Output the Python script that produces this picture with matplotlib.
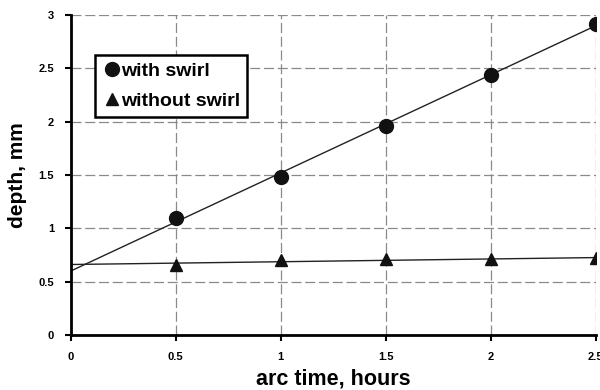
import numpy as np
import matplotlib.pyplot as plt
import matplotlib as mpl

mpl.rcParams.update({'font.family': ['Liberation Sans', 'DejaVu Sans'], 'font.weight': 'bold'})

arc_time = [0.5, 1.0, 1.5, 2.0, 2.5]
with_swirl = [1.10, 1.48, 1.96, 2.44, 2.92]
without_swirl = [0.66, 0.70, 0.71, 0.71, 0.72]

fig = plt.figure(figsize=(6, 3.9), dpi=100)
ax = fig.add_axes([0.118, 0.141, 0.875, 0.8205])

# linear trend lines from x=0
xx = np.array([0, 2.5])
for y in (with_swirl, without_swirl):
	k, b = np.polyfit(arc_time, y, 1)
	ax.plot(xx, k*xx + b, '-', color='#222222', lw=1.0, zorder=2)

ax.plot(arc_time, with_swirl, 'o', color='#111111', markersize=10, label='with swirl', zorder=3)
ax.plot(arc_time, without_swirl, '^', color='#111111', markersize=9, label='without swirl', zorder=3)

ax.set_xlim(0, 2.5)
ax.set_ylim(0, 3)
ax.set_xticks(np.arange(0, 2.51, 0.5))
ax.set_yticks(np.arange(0, 3.01, 0.5))
ax.set_xticklabels(['0', '0.5', '1', '1.5', '2', '2.5'])
ax.set_yticklabels(['0', '0.5', '1', '1.5', '2', '2.5', '3'])
ax.tick_params(labelsize=8, length=4, width=1.5, pad=8)
ax.grid(True, ls=(0, (8, 3)), color='#8a8a8a', lw=0.9)
ax.set_axisbelow(True)
for s in ['top', 'right']:
	ax.spines[s].set_visible(False)
for s in ['left', 'bottom']:
	ax.spines[s].set_linewidth(2)

ax.set_xlabel('arc time, hours', fontsize=15.5, fontweight='bold', labelpad=5)
ax.set_ylabel('depth, mm', fontsize=15, fontweight='bold', labelpad=8)

leg = ax.legend(loc='upper left', bbox_to_anchor=(0.028, 0.905), fontsize=14, handletextpad=0.0,
	handlelength=1.0, borderpad=0.35, labelspacing=0.65, fancybox=False, framealpha=1, edgecolor='black')
leg.get_frame().set_linewidth(1.8)
for t in leg.get_texts():
	t.set_fontweight('bold')

fig.savefig('out.png', dpi=100)
